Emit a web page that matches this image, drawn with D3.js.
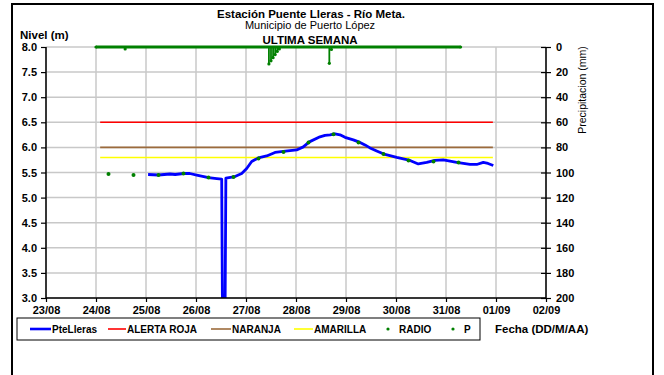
<!DOCTYPE html>
<html><head><meta charset="utf-8">
<script src="https://cdn.jsdelivr.net/npm/d3@7"></script>
<style>body{margin:0;background:#fff}svg{display:block;font-family:"Liberation Sans",Arial,sans-serif}</style>
</head><body><svg id="c" width="664" height="375"></svg>
<script>
// ---- data ----
const dayTicks = ["23/08","24/08","25/08","26/08","27/08","28/08","29/08","30/08","31/08","01/09","02/09"];
const levelTicks = [3.0,3.5,4.0,4.5,5.0,5.5,6.0,6.5,7.0,7.5,8.0];
const precipTicks = [0,20,40,60,80,100,120,140,160,180,200];

const levelTimes = ["25/08 01:00","25/08 06:00","25/08 11:30","25/08 14:00","25/08 18:00","25/08 21:00","26/08 00:20","26/08 06:00","26/08 10:00","26/08 12:20","26/08 12:40","26/08 14:00","26/08 14:20","26/08 18:43","26/08 21:56","27/08 00:20","27/08 02:44","27/08 05:54","27/08 09:56","27/08 13:55","27/08 17:54","28/08 00:20","28/08 03:30","28/08 06:24","28/08 11:30","28/08 13:55","28/08 16:19","28/08 18:43","28/08 21:07","28/08 23:31","29/08 03:30","29/08 06:43","29/08 09:07","29/08 11:31","29/08 14:44","29/08 18:43","30/08 00:20","30/08 06:43","30/08 10:42","30/08 14:44","30/08 18:43","30/08 22:42","31/08 05:08","31/08 11:31","31/08 14:44","31/08 17:54","31/08 20:10","31/08 22:42"];
const levelValues = [5.46,5.45,5.47,5.46,5.48,5.48,5.45,5.40,5.38,5.37,3.0,3.0,5.39,5.42,5.48,5.58,5.72,5.79,5.83,5.90,5.92,5.95,6.01,6.11,6.21,6.24,6.25,6.27,6.25,6.20,6.15,6.10,6.05,5.99,5.93,5.86,5.80,5.74,5.67,5.70,5.74,5.75,5.70,5.66,5.66,5.70,5.68,5.64];

const radioTimes = ["24/08 06:00","24/08 18:00","25/08 06:00","25/08 18:00","26/08 06:00","26/08 18:00","27/08 06:00","27/08 18:00","28/08 06:00","28/08 18:00","29/08 06:00","29/08 18:00","30/08 06:00","30/08 18:00","31/08 06:00"];
const radioValues = [5.47,5.45,5.45,5.48,5.40,5.41,5.78,5.91,6.10,6.26,6.10,5.87,5.74,5.72,5.70];

const pTimes = ["24/08 00:00","24/08 14:00","27/08 11:00","27/08 12:00","27/08 13:00","27/08 14:00","27/08 15:00","27/08 16:00","28/08 16:00","28/08 17:00","31/08 07:00"];
const pValues = [0,1.5,13.5,11,8.5,6,3.5,1.5,13,2,0];

const alertNames = ["ALERTA ROJA","NARANJA","AMARILLA"];
const alertValues = [6.5,6.0,5.8];
const alertColors = ["#ff0000","#9c6b3c","#ffff00"];
const alertStart = "24/08 02:00", alertEnd = "31/08 22:30";

// ---- setup ----
const parse = d3.utcParse("%d/%m %H:%M");
const svg = d3.select("#c");
const W = 664, H = 375;
const m = {l:46, r:546, t:47, b:298};

const x = d3.scaleUtc().domain([parse("23/08 00:00"), parse("02/09 00:00")]).range([m.l, m.r]);
const y = d3.scaleLinear().domain([3,8]).range([m.b, m.t]);
const yp = d3.scaleLinear().domain([0,200]).range([m.t, m.b]);

svg.append("rect").attr("x",0).attr("y",0).attr("width",W).attr("height",H).attr("fill","#fff");
// outer frame
svg.append("rect").attr("x",12).attr("y",4).attr("width",641).attr("height",400)
  .attr("fill","none").attr("stroke","#000").attr("stroke-width",2);

// grid
const dayDates = dayTicks.map(d => parse(d + " 00:00"));
svg.append("g").selectAll("line").data(levelTicks).join("line")
  .attr("x1",m.l).attr("x2",m.r).attr("y1",d=>y(d)).attr("y2",d=>y(d))
  .attr("stroke","#c8c8c8").attr("stroke-width",1.5);
svg.append("g").selectAll("line").data(dayDates).join("line")
  .attr("x1",d=>x(d)).attr("x2",d=>x(d)).attr("y1",m.t).attr("y2",m.b)
  .attr("stroke","#c8c8c8").attr("stroke-width",1.5);

// clip
svg.append("clipPath").attr("id","pc").append("rect")
  .attr("x",m.l).attr("y",m.t-3).attr("width",m.r-m.l).attr("height",m.b-m.t+3);

const plot = svg.append("g").attr("clip-path","url(#pc)");

// alert lines
alertValues.forEach((v,i)=>{
  plot.append("line").attr("x1",x(parse(alertStart))).attr("x2",x(parse(alertEnd)))
    .attr("y1",y(v)).attr("y2",y(v)).attr("stroke",alertColors[i]).attr("stroke-width",1.6);
});

// level line
const lv = levelTimes.map((t,i)=>({t:parse(t), v:levelValues[i]}));
plot.append("path").datum(lv)
  .attr("d", d3.line().x(d=>x(d.t)).y(d=>y(d.v)))
  .attr("fill","none").attr("stroke","#0000ff").attr("stroke-width",2.8).attr("stroke-linejoin","round");

// radio dots
const rd = radioTimes.map((t,i)=>({t:parse(t), v:radioValues[i]}));
plot.append("g").selectAll("circle").data(rd).join("circle")
  .attr("cx",d=>x(d.t)).attr("cy",d=>y(d.v)).attr("r",2).attr("fill","#008000");

// precipitation
const pd = pTimes.map((t,i)=>({t:parse(t), v:pValues[i]}));
const pg = svg.append("g");
pg.append("line").attr("x1",x(pd[0].t)).attr("x2",x(pd[pd.length-1].t))
  .attr("y1",yp(0)).attr("y2",yp(0)).attr("stroke","#008000").attr("stroke-width",3);
pg.selectAll("line.s").data(pd.filter(d=>d.v>0)).join("line").attr("class","s")
  .attr("x1",d=>x(d.t)).attr("x2",d=>x(d.t)).attr("y1",yp(0)).attr("y2",d=>yp(d.v))
  .attr("stroke","#008000").attr("stroke-width",1.8);
pg.selectAll("circle").data(pd).join("circle")
  .attr("cx",d=>x(d.t)).attr("cy",d=>yp(d.v)).attr("r",1.6).attr("fill","#008000");

// axes
const fmtLevel = d3.format(".1f");
const gl = svg.append("g").attr("transform",`translate(${m.l},0)`)
  .call(d3.axisLeft(y).tickValues(levelTicks).tickFormat(fmtLevel).tickSize(5).tickPadding(4));
const gr = svg.append("g").attr("transform",`translate(${m.r},0)`)
  .call(d3.axisRight(yp).tickValues(precipTicks).tickSize(5).tickPadding(5));
gr.selectAll(".tick line").attr("x1",-5);
const gb = svg.append("g").attr("transform",`translate(0,${m.b})`)
  .call(d3.axisBottom(x).tickValues(dayDates).tickFormat(d3.utcFormat("%d/%m")).tickSize(4).tickPadding(4));
[gl,gr,gb].forEach(g=>{
  g.select(".domain").attr("stroke","#000").attr("stroke-width",1.5);
  g.selectAll(".tick line").attr("stroke","#000").attr("stroke-width",1.2);
  g.selectAll("text").attr("font-family","'Liberation Sans',Arial,sans-serif")
    .attr("font-size",11).attr("font-weight","bold").attr("fill","#000");
});
gl.select(".domain").attr("d",`M0,${m.t}V${m.b}`);
gr.select(".domain").attr("d",`M0,${m.t}V${m.b}`);
gb.select(".domain").attr("d",`M${m.l},0H${m.r}`);

// titles
const T = (txt,xx,yy,size,weight,anchor)=>svg.append("text").attr("x",xx).attr("y",yy)
  .attr("font-size",size).attr("font-weight",weight).attr("text-anchor",anchor||"middle").attr("fill","#000").text(txt);
T("Estación Puente Lleras - Río Meta.",311,18,11.5,"bold");
T("Municipio de Puerto López",310,29,11,"normal");
T("ULTIMA SEMANA",310,44,11.5,"bold");
T("Nivel (m)",20,39,11.5,"bold","start");
T("Fecha (DD/M/AA)",495,333,11.5,"bold","start");
svg.append("text").attr("transform","translate(586,90) rotate(-90)")
  .attr("text-anchor","middle").attr("font-size",10.5).attr("fill","#000").text("Precipitacion (mm)");

// legend
const lg = svg.append("g");
lg.append("rect").attr("x",17).attr("y",318).attr("width",463).attr("height",22)
  .attr("fill","#fff").attr("stroke","#000").attr("stroke-width",1);
const ly = 329;
const legItems = [
  {name:"PteLleras", type:"line", color:"#0000ff", x0:30, x1:51, w:2.6},
  {name:alertNames[0], type:"line", color:alertColors[0], x0:108, x1:126, w:1.6},
  {name:alertNames[1], type:"line", color:alertColors[1], x0:211, x1:231, w:1.6},
  {name:alertNames[2], type:"line", color:alertColors[2], x0:294, x1:313, w:1.6},
  {name:"RADIO", type:"dot", color:"#008000", x0:388, x1:398},
  {name:"P", type:"dot", color:"#008000", x0:453, x1:463}
];
legItems.forEach(it=>{
  if(it.type==="line") lg.append("line").attr("x1",it.x0).attr("x2",it.x1).attr("y1",ly).attr("y2",ly)
    .attr("stroke",it.color).attr("stroke-width",it.w);
  else lg.append("circle").attr("cx",it.x0).attr("cy",ly).attr("r",1.6).attr("fill",it.color);
  lg.append("text").attr("x",it.x1+1).attr("y",ly+3.5).attr("font-size",10).attr("font-weight","bold")
    .attr("fill","#000").text(it.name);
});
</script></body></html>
